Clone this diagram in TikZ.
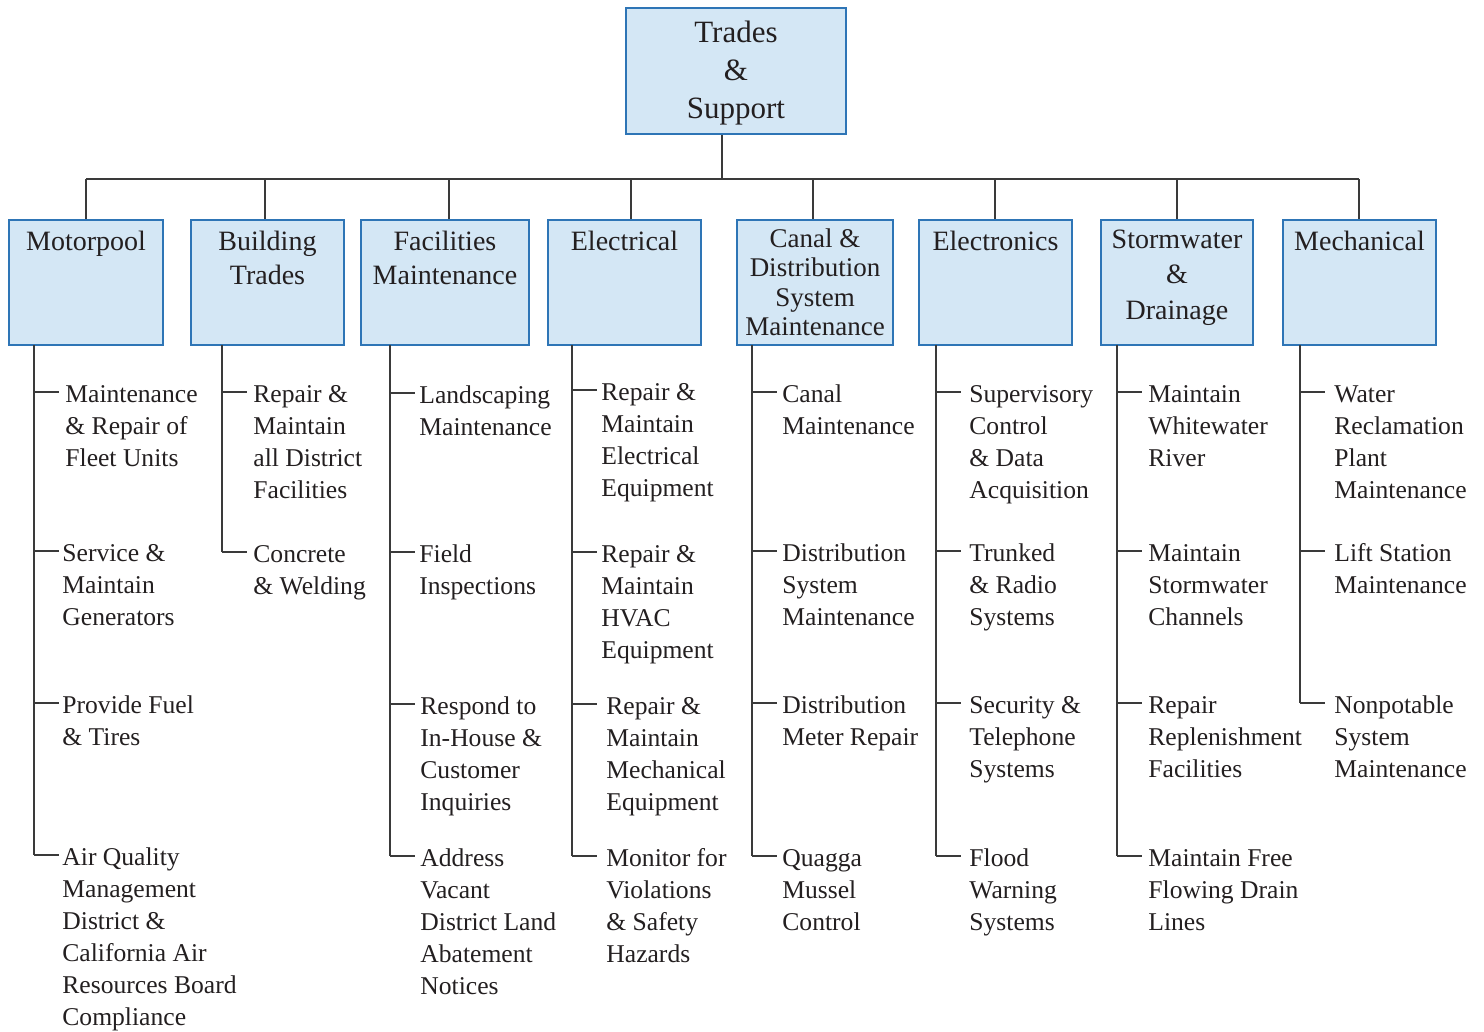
\documentclass[tikz,border=0pt]{standalone}
\usepackage{fontspec}
\setmainfont{Liberation Serif}
\usetikzlibrary{calc}
\definecolor{unitfill}{HTML}{D4E7F5}
\definecolor{unitdraw}{HTML}{2E75B6}
\definecolor{wire}{HTML}{3A3A3A}
\definecolor{ink}{HTML}{231F20}

% leaf texts: the strut fixes the top of the first line at 0.7\baselineskip above its baseline
\newcommand{\lf}[1]{\strut#1}

\begin{document}
\begin{tikzpicture}[x=0.5pt,y=-0.5pt,
  unit/.style={draw=unitdraw, fill=unitfill, line width=1pt, rectangle,
    inner sep=0pt, minimum height=62.5pt},
  title/.style={anchor=north, align=center, inner sep=0pt, text=ink,
    font=\fontsize{14}{17}\selectfont},
  leaf/.style={anchor=north west, align=left, inner sep=0pt, text=ink,
    font=\fontsize{12.8}{16}\selectfont},
  link/.style={draw=wire, line width=0.75pt},
]
\useasboundingbox (0,0) rectangle (1484,1032);

% ---- top unit ----
\node[unit, minimum width=110pt, minimum height=63pt] (top) at (736,71) {};
\node[title, font=\fontsize{15.5}{19}\selectfont] (topT) at ([yshift=-4.2pt]top.north) {\strut Trades\\\&\\Support};

% ---- divisions ----
\node[unit, minimum width=77pt]   (motor) at (86,282.5) {};
\node[unit, minimum width=76.5pt] (build) at (267.5,282.5) {};
\node[unit, minimum width=84pt]   (fac)   at (445,282.5) {};
\node[unit, minimum width=76.5pt] (elec)  at (624.5,282.5) {};
\node[unit, minimum width=78pt]   (canal) at (815,282.5) {};
\node[unit, minimum width=76.5pt] (elex)  at (995.5,282.5) {};
\node[unit, minimum width=76pt]   (storm) at (1177,282.5) {};
\node[unit, minimum width=76.5pt] (mech)  at (1359.5,282.5) {};

\node[title] (motorT) at ([yshift=-3.6pt]motor.north) {\strut Motorpool};
\node[title] (buildT) at ([yshift=-3.6pt]build.north) {\strut Building\\Trades};
\node[title] (facT)   at ([yshift=-3.6pt]fac.north) {\strut Facilities\\Maintenance};
\node[title] (elecT)  at ([yshift=-3.6pt]elec.north) {\strut Electrical};
\node[title, font=\fontsize{13.5}{14.75}\selectfont] (canalT) at ([yshift=-3.7pt]canal.north)
  {\strut Canal \&\\Distribution\\System\\Maintenance};
\node[title] (elexT)  at ([yshift=-3.6pt]elex.north) {\strut Electronics};
\node[title, font=\fontsize{14}{17.75}\selectfont] (stormT) at ([yshift=-2.1pt]storm.north) {\strut Stormwater\\\&\\Drainage};
\node[title] (mechT)  at ([yshift=-3.6pt]mech.north) {\strut Mechanical};

% ---- bus between the top unit and the divisions ----
\coordinate (dTop) at (722,179);
\coordinate (dM) at (86,179);
\coordinate (dB) at (265,179);
\coordinate (dF) at (449,179);
\coordinate (dE) at (631,179);
\coordinate (dC) at (813,179);
\coordinate (dT) at (995,179);
\coordinate (dS) at (1177,179);
\coordinate (dH) at (1359,179);

\draw[link] (top.south -| dTop) -- (dTop);
\draw[link] (dM) -- (dH);
\draw[link] (dM) -- (dM |- motor.north);
\draw[link] (dB) -- (dB |- build.north);
\draw[link] (dF) -- (dF |- fac.north);
\draw[link] (dE) -- (dE |- elec.north);
\draw[link] (dC) -- (dC |- canal.north);
\draw[link] (dT) -- (dT |- elex.north);
\draw[link] (dS) -- (dS |- storm.north);
\draw[link] (dH) -- (dH |- mech.north);

% ---- stems under each division ----
\coordinate (mS) at (34,345);
\coordinate (bS) at (222,345);
\coordinate (fS) at (390,345);
\coordinate (eS) at (572,345);
\coordinate (cS) at (752,345);
\coordinate (tS) at (936,345);
\coordinate (sS) at (1117,345);
\coordinate (hS) at (1300,345);

% ---- Motorpool ----
\node[leaf] (m1) at (65,379.6) {\lf{Maintenance}\\\& Repair of\\Fleet Units};
\node[leaf] (m2) at (62,538.6) {\lf{Service \&}\\Maintain\\Generators};
\node[leaf] (m3) at (62,690.6) {\lf{Provide Fuel}\\\& Tires};
\node[leaf] (m4) at (62,842.6) {\lf{Air Quality}\\Management\\District \&\\California Air\\Resources Board\\Compliance};

% ---- Building Trades ----
\node[leaf] (b1) at (253,379.6) {\lf{Repair \&}\\Maintain\\all District\\Facilities};
\node[leaf] (b2) at (253,539.6) {\lf{Concrete}\\\& Welding};

% ---- Facilities Maintenance ----
\node[leaf] (f1) at (419,380.6) {\lf{Landscaping}\\Maintenance};
\node[leaf] (f2) at (419,539.6) {\lf{Field}\\Inspections};
\node[leaf] (f3) at (420,691.6) {\lf{Respond to}\\In-House \&\\Customer\\Inquiries};
\node[leaf] (f4) at (420,843.6) {\lf{Address}\\Vacant\\District Land\\Abatement\\Notices};

% ---- Electrical ----
\node[leaf] (e1) at (601,377.6) {\lf{Repair \&}\\Maintain\\Electrical\\Equipment};
\node[leaf] (e2) at (601,539.6) {\lf{Repair \&}\\Maintain\\HVAC\\Equipment};
\node[leaf] (e3) at (606,691.6) {\lf{Repair \&}\\Maintain\\Mechanical\\Equipment};
\node[leaf] (e4) at (606,843.6) {\lf{Monitor for}\\Violations\\\& Safety\\Hazards};

% ---- Canal & Distribution ----
\node[leaf] (c1) at (782,379.6) {\lf{Canal}\\Maintenance};
\node[leaf] (c2) at (782,538.6) {\lf{Distribution}\\System\\Maintenance};
\node[leaf] (c3) at (782,690.6) {\lf{Distribution}\\Meter Repair};
\node[leaf] (c4) at (782,843.6) {\lf{Quagga}\\Mussel\\Control};

% ---- Electronics ----
\node[leaf] (t1) at (969,379.6) {\lf{Supervisory}\\Control\\\& Data\\Acquisition};
\node[leaf] (t2) at (969,538.6) {\lf{Trunked}\\\& Radio\\Systems};
\node[leaf] (t3) at (969,690.6) {\lf{Security \&}\\Telephone\\Systems};
\node[leaf] (t4) at (969,843.6) {\lf{Flood}\\Warning\\Systems};

% ---- Stormwater & Drainage ----
\node[leaf] (s1) at (1148,379.6) {\lf{Maintain}\\Whitewater\\River};
\node[leaf] (s2) at (1148,538.6) {\lf{Maintain}\\Stormwater\\Channels};
\node[leaf] (s3) at (1148,690.6) {\lf{Repair}\\Replenishment\\Facilities};
\node[leaf] (s4) at (1148,843.6) {\lf{Maintain Free}\\Flowing Drain\\Lines};

% ---- Mechanical ----
\node[leaf] (h1) at (1334,379.6) {\lf{Water}\\Reclamation\\Plant\\Maintenance};
\node[leaf] (h2) at (1334,538.6) {\lf{Lift Station}\\Maintenance};
\node[leaf] (h3) at (1334,690.6) {\lf{Nonpotable}\\System\\Maintenance};

% ---- stems and ticks: each tick meets the first line of its text ----
\foreach \s/\last/\list in {mS/m4/{m1,m2,m3,m4}, bS/b2/{b1,b2}, fS/f4/{f1,f2,f3,f4},
    eS/e4/{e1,e2,e3,e4}, cS/c4/{c1,c2,c3,c4}, tS/t4/{t1,t2,t3,t4},
    sS/s4/{s1,s2,s3,s4}, hS/h3/{h1,h2,h3}} {
  \draw[link] (\s) -- ([yshift=-6.2pt]\last.north west -| \s);
  \foreach \l in \list {
    \draw[link] ([yshift=-6.2pt]\l.north west -| \s) -- ++(25,0);
  }
}
\end{tikzpicture}
\end{document}
